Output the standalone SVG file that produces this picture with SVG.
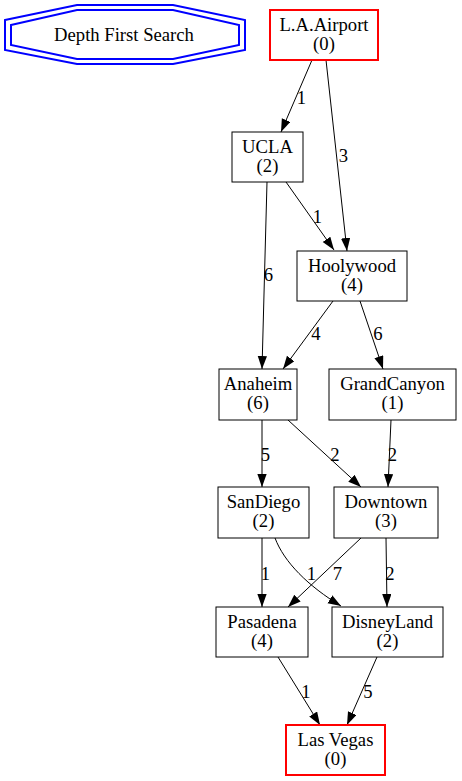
<svg xmlns="http://www.w3.org/2000/svg" width="462" height="781" viewBox="0 0 462 781">
<style>
text{font-family:"Liberation Serif","Times New Roman",serif;font-size:18.67px;fill:#000;text-anchor:middle}
.n rect{fill:#fff;stroke:#000;stroke-width:1}
.n.r rect{stroke:#ff0000;stroke-width:2}
.e path{fill:none;stroke:#000;stroke-width:1;marker-end:url(#ah)}
.oct{fill:none;stroke:#0000ff;stroke-width:2}
</style>
<defs>
<marker id="ah" markerUnits="userSpaceOnUse" markerWidth="14" markerHeight="10" refX="13" refY="4.65" orient="auto">
<path d="M0,0 L13,4.65 L0,9.3 z" fill="#000"/>
</marker>
</defs>
<rect width="462" height="781" fill="#fff"/>
<g id="title">
<polygon class="oct" points="5,20 77,5 173,5 245,20 245,50 173,64 77,64 5,50"/>
<polygon class="oct" points="11,25 77,10 173,10 239,25 239,45 173,59 77,59 11,45"/>
<text x="124" y="40.5">Depth First Search</text>
</g>
<g id="edges" class="e">
<path d="M312,60 L281,132"/>
<path d="M326,60 L347,251"/>
<path d="M286,182 L334,250"/>
<path d="M267,182 L262,369"/>
<path d="M333,301 L283,369"/>
<path d="M360,301 L383,369"/>
<path d="M262,420 L262,487"/>
<path d="M288,420 L361,487"/>
<path d="M391,420 L388,487"/>
<path d="M262,538 L262,607"/>
<path d="M275,538 C284,562 308,586 341,606"/>
<path d="M361,538 L288,607"/>
<path d="M386,538 L387,607"/>
<path d="M278,657 L320,725"/>
<path d="M377,657 L347,725"/>
<g id="edge-labels">
<text x="301.5" y="104">1</text>
<text x="343.5" y="162">3</text>
<text x="317.5" y="223">1</text>
<text x="268.5" y="281">6</text>
<text x="316" y="340">4</text>
<text x="378" y="340">6</text>
<text x="265.5" y="461">5</text>
<text x="335" y="461">2</text>
<text x="392.5" y="461">2</text>
<text x="265.5" y="579.5">1</text>
<text x="311.5" y="579.5">1</text>
<text x="337.5" y="579.5">7</text>
<text x="390" y="579.5">2</text>
<text x="306" y="698">1</text>
<text x="368" y="698">5</text>
</g>
</g>
<g id="LAAirport" class="n r"><rect x="270" y="10" width="108" height="50"/><text x="324" y="30.5">L.A.Airport</text><text x="324" y="49.5">(0)</text></g>
<g id="UCLA" class="n"><rect x="232" y="132" width="71" height="50"/><text x="267.5" y="152.5">UCLA</text><text x="267.5" y="171.5">(2)</text></g>
<g id="Hoolywood" class="n"><rect x="297" y="251" width="110" height="50"/><text x="352" y="271.5">Hoolywood</text><text x="352" y="290.5">(4)</text></g>
<g id="Anaheim" class="n"><rect x="219" y="369" width="78" height="51"/><text x="258" y="390">Anaheim</text><text x="258" y="409">(6)</text></g>
<g id="GrandCanyon" class="n"><rect x="329" y="369" width="127" height="51"/><text x="392.5" y="390">GrandCanyon</text><text x="392.5" y="409">(1)</text></g>
<g id="SanDiego" class="n"><rect x="218" y="487" width="91" height="51"/><text x="263.5" y="508">SanDiego</text><text x="263.5" y="527">(2)</text></g>
<g id="Downtown" class="n"><rect x="334" y="487" width="104" height="51"/><text x="386" y="508">Downtown</text><text x="386" y="527">(3)</text></g>
<g id="Pasadena" class="n"><rect x="216" y="607" width="92" height="50"/><text x="262" y="627.5">Pasadena</text><text x="262" y="646.5">(4)</text></g>
<g id="DisneyLand" class="n"><rect x="332" y="607" width="111" height="50"/><text x="387.5" y="627.5">DisneyLand</text><text x="387.5" y="646.5">(2)</text></g>
<g id="LasVegas" class="n r"><rect x="286" y="725" width="99" height="50"/><text x="335.5" y="745.5">Las Vegas</text><text x="335.5" y="764.5">(0)</text></g>
</svg>
